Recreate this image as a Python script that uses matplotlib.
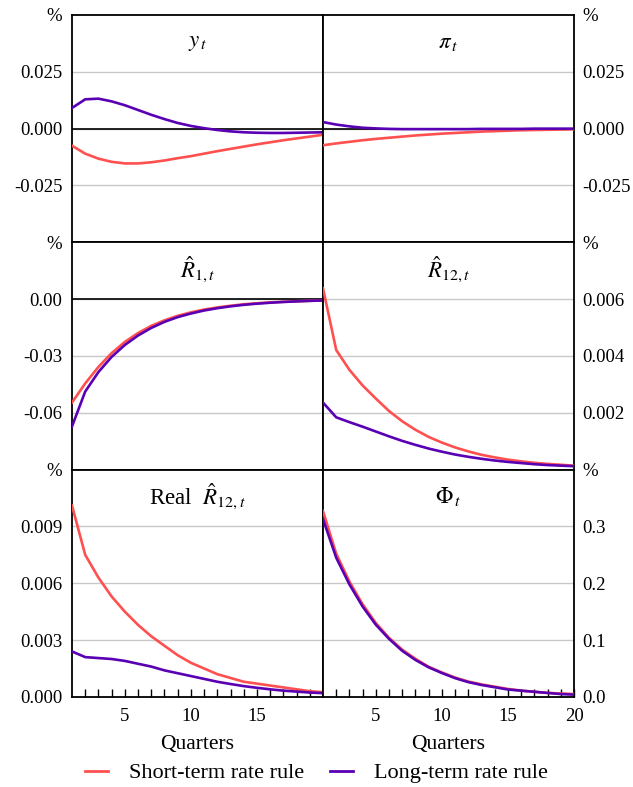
import matplotlib
matplotlib.use('Agg')
import matplotlib.pyplot as plt
from matplotlib.lines import Line2D

plt.rcParams['font.family'] = ['Liberation Serif', 'DejaVu Serif']
plt.rcParams['mathtext.fontset'] = 'stix'

quarters = list(range(1, 21))

# output gap
y_short = [-0.0075, -0.0110, -0.0132, -0.0146, -0.0153, -0.0153, -0.0148, -0.0140, -0.0130, -0.0121,
           -0.0110, -0.0099, -0.0089, -0.0079, -0.0069, -0.0060, -0.0051, -0.0043, -0.0035, -0.0027]
y_long = [0.0091, 0.0129, 0.0132, 0.0120, 0.0103, 0.0082, 0.0061, 0.0042, 0.0025, 0.0012,
          0.0002, -0.0006, -0.0012, -0.0016, -0.0018, -0.0019, -0.0019, -0.0018, -0.0017, -0.0016]
# inflation
pi_short = [-0.0073, -0.0065, -0.0058, -0.0051, -0.0045, -0.0040, -0.0035, -0.0030, -0.0026, -0.0022,
            -0.0019, -0.0016, -0.0013, -0.0011, -0.0009, -0.0007, -0.0006, -0.0005, -0.0004, -0.0003]
pi_long = [0.0029, 0.0018, 0.0010, 0.0004, 0.0001, -0.0001, -0.0002, -0.0002, -0.0002, -0.0002,
           -0.0002, -0.0002, -0.0001, -0.0001, -0.0001, -0.0001, 0.0000, 0.0000, 0.0000, 0.0000]
# short rate
r1_short = [-0.0546, -0.0445, -0.0358, -0.0285, -0.0226, -0.0179, -0.0141, -0.0112, -0.0088, -0.0070,
            -0.0055, -0.0044, -0.0035, -0.0027, -0.0022, -0.0017, -0.0014, -0.0011, -0.0009, -0.0007]
r1_long = [-0.0672, -0.0488, -0.0385, -0.0305, -0.0242, -0.0192, -0.0152, -0.0120, -0.0095, -0.0076,
           -0.0060, -0.0048, -0.0038, -0.0030, -0.0024, -0.0019, -0.0015, -0.0012, -0.0009, -0.0007]
# long rate
r12_short = [0.00638, 0.00421, 0.00351, 0.00296, 0.00250, 0.00206, 0.00170, 0.00140, 0.00115, 0.00095,
             0.00078, 0.00064, 0.00052, 0.00043, 0.00035, 0.00029, 0.00024, 0.00020, 0.00017, 0.00014]
r12_long = [0.00236, 0.00184, 0.00167, 0.00151, 0.00134, 0.00117, 0.00101, 0.00087, 0.00074, 0.00063,
            0.00053, 0.00045, 0.00038, 0.00032, 0.00027, 0.00023, 0.00019, 0.00016, 0.00014, 0.00012]
# real long rate
real_short = [0.0101, 0.0075, 0.0063, 0.0053, 0.0045, 0.0038, 0.0032, 0.0027, 0.0022, 0.0018,
              0.0015, 0.0012, 0.0010, 0.0008, 0.0007, 0.0006, 0.0005, 0.0004, 0.0003, 0.00025]
real_long = [0.0024, 0.0021, 0.00205, 0.0020, 0.0019, 0.00175, 0.0016, 0.0014, 0.00125, 0.0011,
             0.00095, 0.0008, 0.00068, 0.00057, 0.00048, 0.0004, 0.00033, 0.00028, 0.00023, 0.0002]
# term premium
phi_short = [0.327, 0.252, 0.203, 0.163, 0.130, 0.104, 0.083, 0.067, 0.053, 0.043,
             0.034, 0.027, 0.022, 0.018, 0.014, 0.011, 0.009, 0.007, 0.006, 0.005]
phi_long = [0.313, 0.245, 0.198, 0.159, 0.127, 0.102, 0.081, 0.065, 0.052, 0.042,
            0.033, 0.026, 0.021, 0.017, 0.013, 0.011, 0.009, 0.007, 0.005, 0.004]

red = '#ff5050'
purple = '#5a00b4'

panels = [
    (r'$y_{\,t}$', y_short, y_long, (-0.05, 0.05), [-0.025, 0, 0.025], ['-0.025', '0.000', '0.025'], True),
    (r'$\pi_{\,t}$', pi_short, pi_long, (-0.05, 0.05), [-0.025, 0, 0.025], ['-0.025', '0.000', '0.025'], True),
    (r'$\hat{R}_{1,t}$', r1_short, r1_long, (-0.09, 0.03), [-0.06, -0.03, 0], ['-0.06', '-0.03', '0.00'], True),
    (r'$\hat{R}_{12,t}$', r12_short, r12_long, (0, 0.008), [0.002, 0.004, 0.006], ['0.002', '0.004', '0.006'], False),
    (r'Real  $\hat{R}_{12,t}$', real_short, real_long, (0, 0.012), [0, 0.003, 0.006, 0.009],
     ['0.000', '0.003', '0.006', '0.009'], False),
    (r'$\Phi_{\,t}$', phi_short, phi_long, (0, 0.4), [0, 0.1, 0.2, 0.3], ['0.0', '0.1', '0.2', '0.3'], False),
]

fig = plt.figure(figsize=(6.33, 7.87), dpi=100)
W, H = 633, 787
lefts = [72, 323]
tops = [15, 242.3, 469.6]
pw, ph = 251, 227.3

for i, (title, s, l, ylim, ticks, labels, zero) in enumerate(panels):
    row, col = divmod(i, 2)
    ax = fig.add_axes([lefts[col] / W, 1 - (tops[row] + ph) / H, pw / W, ph / H])
    for yv in ticks:
        ax.axhline(yv, color='#c8c8c8', lw=1, zorder=0)
    if zero:
        ax.axhline(0, color='black', lw=1.2, zorder=1)
    ax.plot(quarters, s, color=red, lw=1.9, zorder=3)
    ax.plot(quarters, l, color=purple, lw=1.9, zorder=4)
    ax.set_xlim(1, 20)
    ax.set_ylim(*ylim)
    ax.set_yticks(ticks + [ylim[1]])
    ax.set_yticklabels(labels + ['%'])
    if col == 1:
        ax.yaxis.tick_right()
        ax.tick_params(axis='y', length=0, labelsize=13.5, pad=6)
    else:
        ax.tick_params(axis='y', length=0, labelsize=13.5, pad=7)
    for sp in ax.spines.values():
        sp.set_linewidth(1.3)
    ax.text(0.5, 0.88, title, transform=ax.transAxes, ha='center', va='center', fontsize=16.5)
    if row == 2:
        ax.set_xticks([5, 10, 15] if col == 0 else [5, 10, 15, 20])
        ax.set_xticks(range(2, 20), minor=True)
        ax.tick_params(axis='x', which='both', direction='in', length=6, width=1, labelsize=13.5, pad=8)
        ax.set_xlabel('Quarters', fontsize=15.5, labelpad=7)
    else:
        ax.set_xticks([])

handles = [Line2D([], [], color=red, lw=2), Line2D([], [], color=purple, lw=2)]
fig.legend(handles, ['Short-term rate rule', 'Long-term rate rule'], loc='center',
           bbox_to_anchor=(0.5, 1 - 773 / H), ncol=2, frameon=False, fontsize=16,
           handlelength=1.0, handletextpad=0.95, columnspacing=1.2)

fig.savefig('out.png', dpi=100)
